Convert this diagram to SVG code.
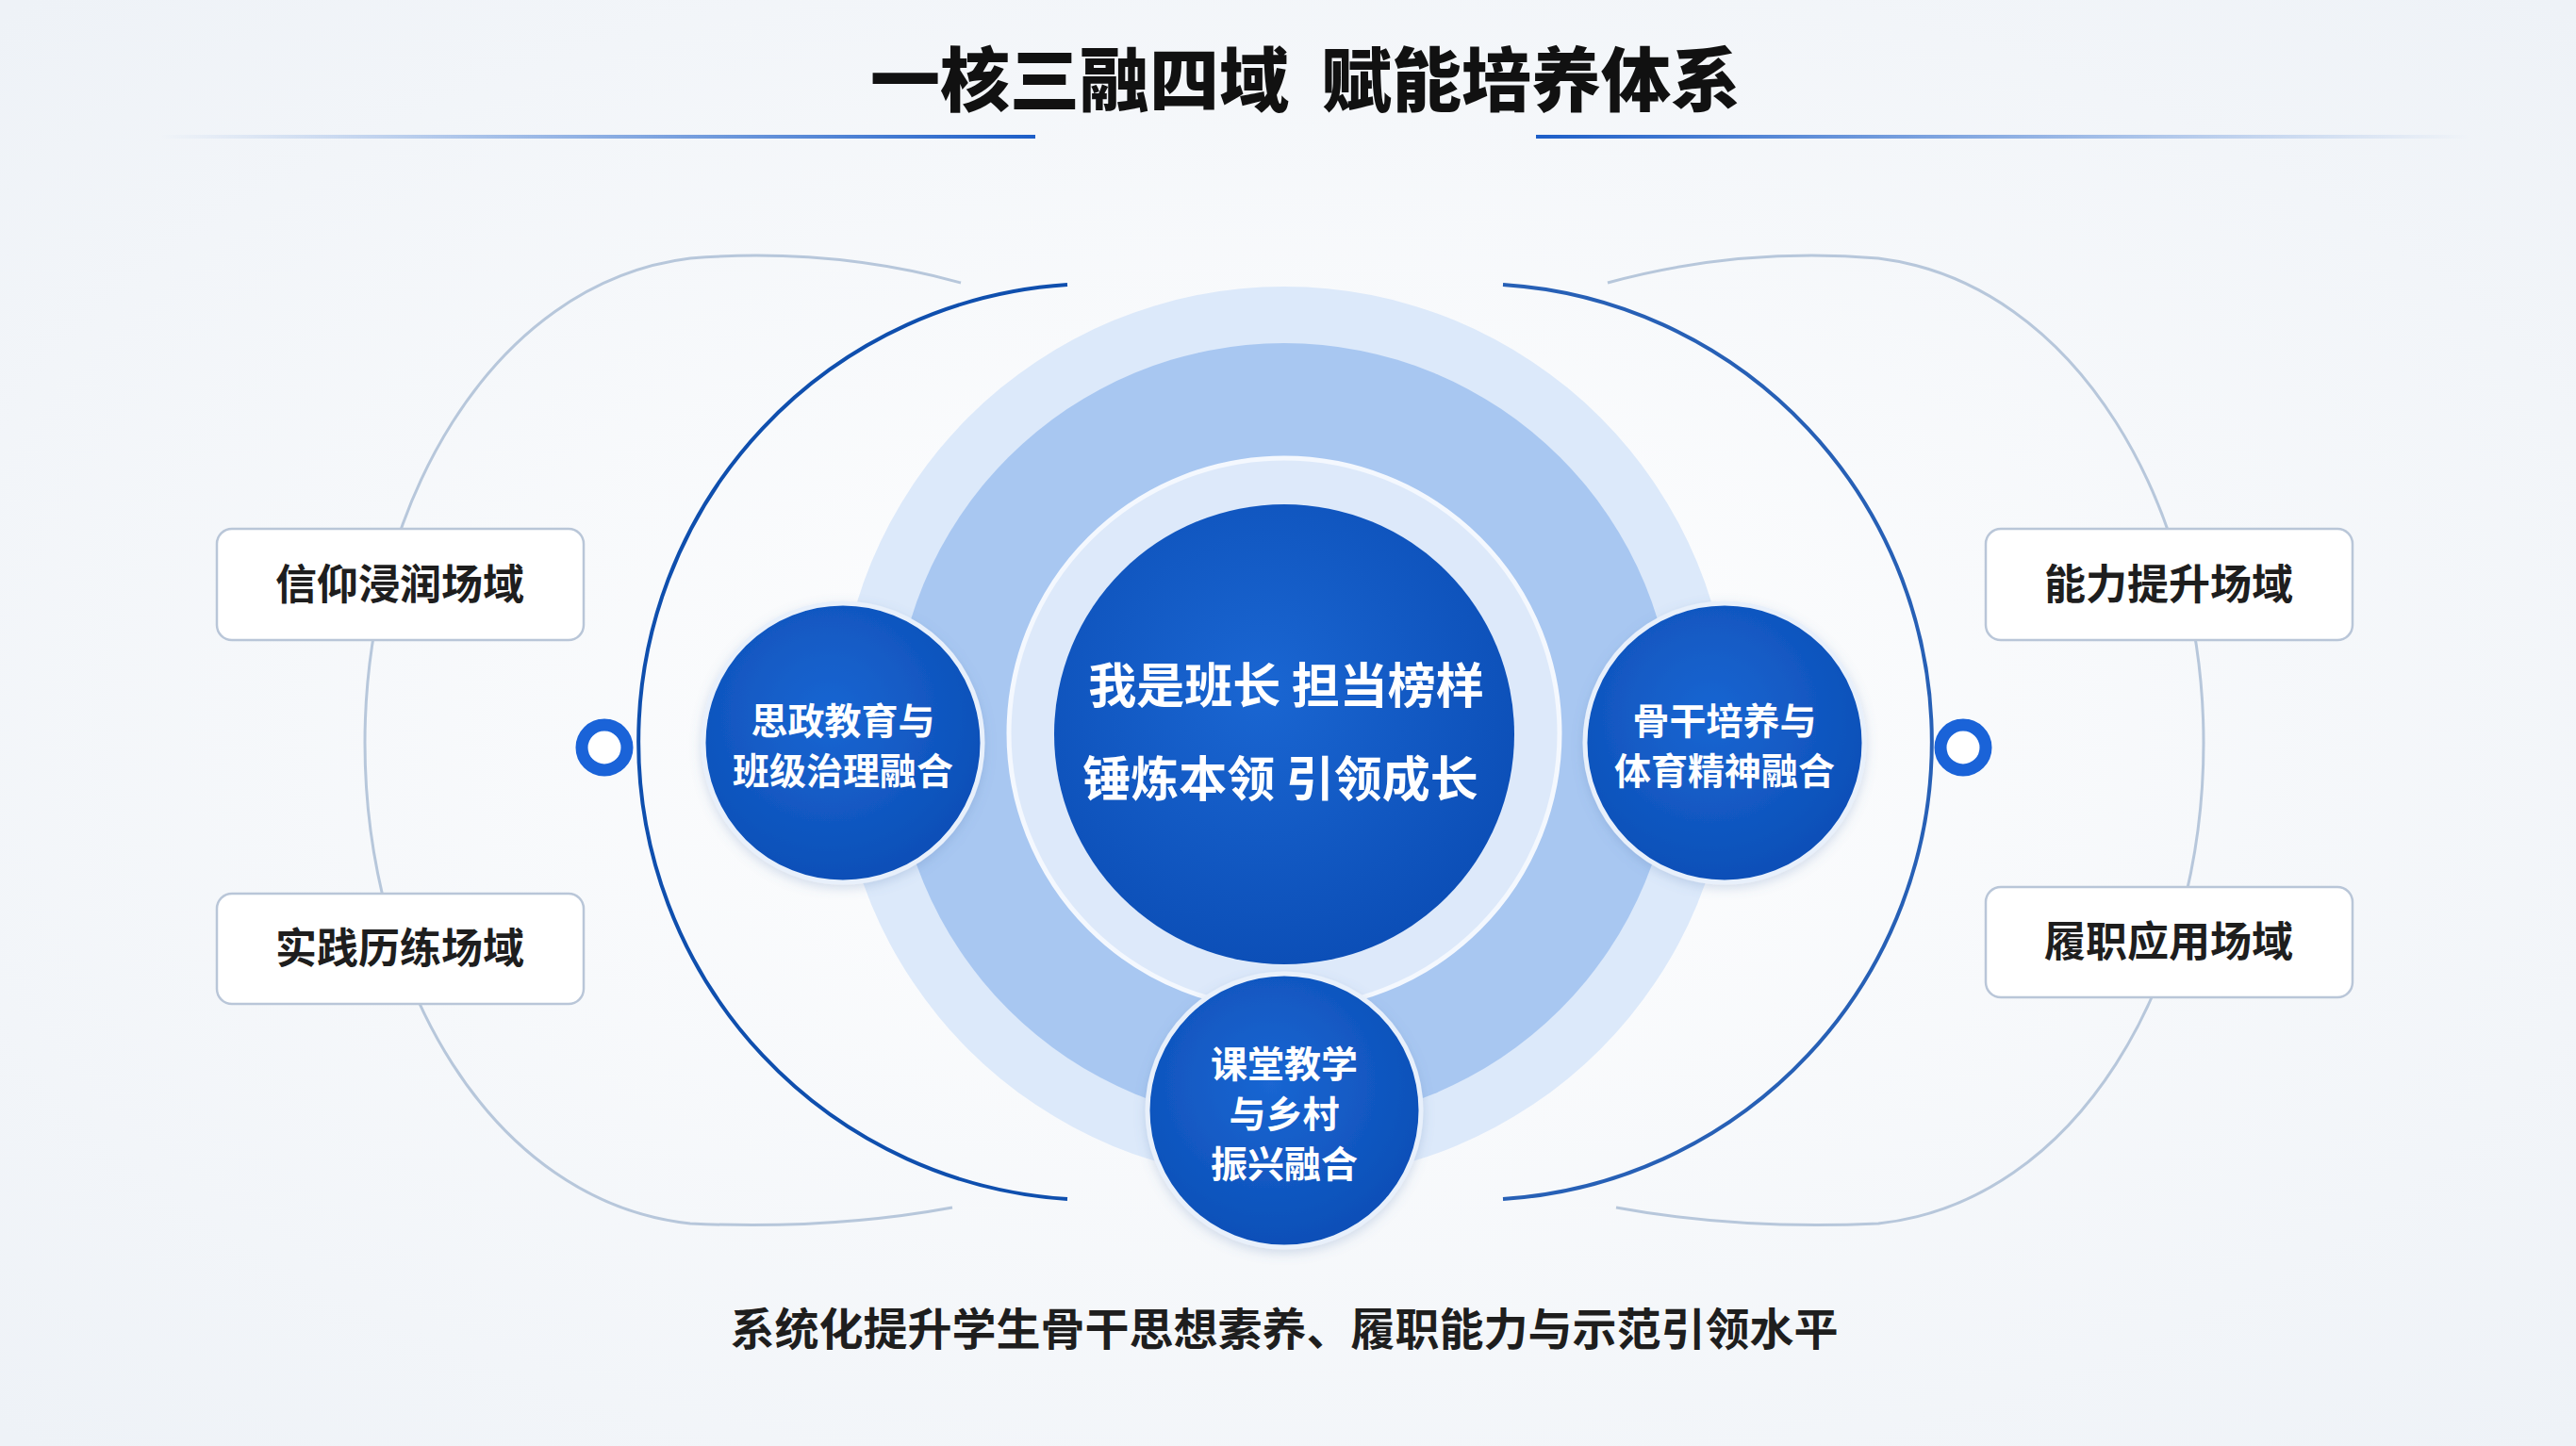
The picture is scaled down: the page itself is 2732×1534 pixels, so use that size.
<svg xmlns="http://www.w3.org/2000/svg" width="2732" height="1534" viewBox="0 0 2732 1534">
<defs>
<radialGradient id="bg" cx="50%" cy="50%" r="70%"><stop offset="0" stop-color="#ffffff"/><stop offset="1" stop-color="#eef2f7"/></radialGradient>
<linearGradient id="lineL" x1="0" x2="1"><stop offset="0" stop-color="#2f6fd0" stop-opacity="0"/><stop offset="1" stop-color="#1d5ec8"/></linearGradient>
<linearGradient id="lineR" x1="0" x2="1"><stop offset="0" stop-color="#1d5ec8"/><stop offset="1" stop-color="#2f6fd0" stop-opacity="0"/></linearGradient>
<radialGradient id="dark" cx="45%" cy="40%" r="65%"><stop offset="0" stop-color="#1a66d2"/><stop offset="1" stop-color="#0b4db5"/></radialGradient>
<filter id="sh" x="-20%" y="-20%" width="140%" height="140%"><feDropShadow dx="0" dy="4" stdDeviation="6" flood-color="#5a7fb5" flood-opacity="0.25"/></filter>
<style>
.box{fill:#fff;stroke:#b9c6d8;stroke-width:2.5}
.bt{font-family:"Noto Sans CJK SC",sans-serif;font-weight:700;font-size:44px;fill:#1e1e1e;text-anchor:middle}
.wt{font-family:"Noto Sans CJK SC",sans-serif;font-weight:700;fill:#fff;text-anchor:middle}
.tt{font-family:"Noto Sans CJK SC",sans-serif;font-weight:900;font-size:74px;fill:#111;text-anchor:middle}
.thin{fill:none;stroke:#b7c7db;stroke-width:3}
.arc{fill:none;stroke:#0f4fae;stroke-width:4}
.sat{fill:url(#dark);stroke:#e8f0fb;stroke-width:5}
</style>
</defs>
<rect width="2732" height="1534" fill="url(#bg)"/>
<text class="tt" x="1145" y="112">一核三融四域</text>
<text class="tt" x="1624" y="112">赋能培养体系</text>
<rect x="170" y="143" width="928" height="4" fill="url(#lineL)"/>
<rect x="1629" y="143" width="990" height="4" fill="url(#lineR)"/>
<g id="connectors">
<path class="thin" d="M1019 300 Q880 262 732 274 C520 300 387 540 387 788 C387 1040 520 1275 732 1298 Q880 1305 1010 1281"/>
<path class="thin" d="M1705 300 Q1844 262 1992 274 C2204 300 2337 540 2337 788 C2337 1040 2204 1275 1992 1298 Q1844 1305 1714 1281"/>
<path class="arc" d="M1132 302 A486 486 0 0 0 1132 1272"/>
<path class="arc" d="M1594 302 A486 486 0 0 1 1594 1272" stroke-opacity="0.9"/>
<circle cx="641" cy="793" r="24" fill="#fff" stroke="#1a63d8" stroke-width="13"/>
<circle cx="2082" cy="793" r="24" fill="#fff" stroke="#1a63d8" stroke-width="13"/>
</g>
<g id="halo">
<circle cx="1362" cy="778" r="474" fill="#dce9fa"/>
<circle cx="1362" cy="778" r="414" fill="#a8c7f1"/>
<circle cx="1362" cy="778" r="292" fill="#dde9fa" stroke="#f4f8fe" stroke-width="5"/>
</g>
<g id="core">
<circle cx="1362" cy="779" r="244" fill="url(#dark)"/>
<text class="wt" x="1364" y="746" font-size="51">我是班长 担当榜样</text>
<text class="wt" x="1358" y="845" font-size="51">锤炼本领 引领成长</text>
</g>
<g id="n-left"><circle class="sat" cx="894" cy="788" r="148" filter="url(#sh)"/>
<text class="wt" x="894" y="779" font-size="39">思政教育与</text><text class="wt" x="894" y="832" font-size="39">班级治理融合</text></g>
<g id="n-right"><circle class="sat" cx="1829" cy="788" r="148" filter="url(#sh)"/>
<text class="wt" x="1829" y="779" font-size="39">骨干培养与</text><text class="wt" x="1829" y="832" font-size="39">体育精神融合</text></g>
<g id="n-bottom"><circle class="sat" cx="1362" cy="1178" r="145" filter="url(#sh)"/>
<text class="wt" x="1362" y="1143" font-size="39">课堂教学</text><text class="wt" x="1362" y="1196" font-size="39">与乡村</text><text class="wt" x="1362" y="1249" font-size="39">振兴融合</text></g>
<g id="b1"><rect class="box" x="230" y="561" width="389" height="118" rx="16"/><text class="bt" x="424" y="636">信仰浸润场域</text></g>
<g id="b2"><rect class="box" x="230" y="948" width="389" height="117" rx="16"/><text class="bt" x="424" y="1022">实践历练场域</text></g>
<g id="b3"><rect class="box" x="2106" y="561" width="389" height="118" rx="16"/><text class="bt" x="2300" y="636">能力提升场域</text></g>
<g id="b4"><rect class="box" x="2106" y="941" width="389" height="117" rx="16"/><text class="bt" x="2300" y="1015">履职应用场域</text></g>
<text x="1362" y="1427" font-family="'Noto Sans CJK SC',sans-serif" font-weight="700" font-size="47" fill="#1e1e1e" text-anchor="middle">系统化提升学生骨干思想素养、履职能力与示范引领水平</text>
</svg>
